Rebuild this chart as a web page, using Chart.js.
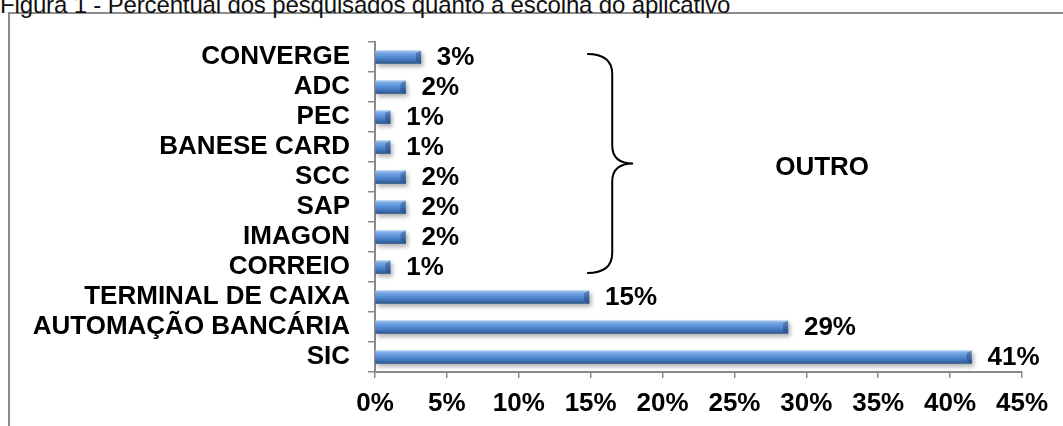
<!DOCTYPE html>
<html>
<head>
<meta charset="utf-8">
<script src="https://cdn.jsdelivr.net/npm/chart.js@4/dist/chart.umd.min.js"></script>
<style>
  body { margin: 0; background: #fff; overflow: hidden; }
  #wrap { position: relative; width: 1063px; height: 426px; }
  #frame { position: absolute; left: 8px; top: 12px; width: 1060px; height: 420px;
           border-top: 2px solid #8c8c8c; border-left: 2px solid #8c8c8c; }
  #title { position: absolute; left: 0px; top: -9px; font: 24px "Liberation Sans", Arial, sans-serif;
           color: #111; white-space: nowrap; letter-spacing: -0.15px; }
  #box { position: absolute; left: 0; top: 0; width: 1063px; height: 426px; }
</style>
</head>
<body>
<div id="wrap">
  <div id="frame"></div>
  <div id="title">Figura 1 - Percentual dos pesquisados quanto à escolha do aplicativo</div>
  <div id="box"><canvas id="chartBar"></canvas></div>
</div>
<script>
// dados (%)
var categorias = ["CONVERGE", "ADC", "PEC", "BANESE CARD", "SCC", "SAP", "IMAGON", "CORREIO",
                  "TERMINAL DE CAIXA", "AUTOMAÇÃO BANCÁRIA", "SIC"];
var percentuais = [3.19, 2.13, 1.06, 1.06, 2.13, 2.13, 2.13, 1.06, 14.89, 28.72, 41.49];
var ticksX = [0, 5, 10, 15, 20, 25, 30, 35, 40, 45];
var grupoOutro = "OUTRO";

function init(){
  Chart.defaults.font.family = '"Liberation Sans", Arial, sans-serif';
  Chart.defaults.color = '#000';
  var fonte = { size: 26, weight: 'bold' };
  var fonteTxt = 'bold 26px "Liberation Sans", Arial, sans-serif';

  // gradiente vertical de cada barra (efeito 3D)
  function corBarra(c){
    var chart = c.chart;
    if (!chart.chartArea || !chart.scales.y) return '#4f81bd';
    var y = chart.scales.y.getPixelForValue(c.dataIndex);
    var g = chart.ctx.createLinearGradient(0, y - 6.5, 0, y + 6.5);
    g.addColorStop(0, '#b4d0f2');
    g.addColorStop(0.15, '#80acE6');
    g.addColorStop(0.45, '#5790d8');
    g.addColorStop(0.75, '#4275bb');
    g.addColorStop(1, '#2c568a');
    return g;
  }

  var sombra = {
    id: 'sombra',
    beforeDatasetsDraw: function(chart){
      var ctx = chart.ctx;
      ctx.save();
      ctx.shadowColor = 'rgba(0,0,0,0.3)';
      ctx.shadowBlur = 4;
      ctx.shadowOffsetX = 2;
      ctx.shadowOffsetY = 3;
    },
    afterDatasetsDraw: function(chart){
      var ctx = chart.ctx;
      ctx.restore();
      var meta = chart.getDatasetMeta(0);
      meta.data.forEach(function(bar, i){
        var h = bar.height, t = bar.y - h / 2, b = bar.y + h / 2;
        // chanfro na ponta da barra
        ctx.save();
        ctx.fillStyle = 'rgba(20,45,90,0.35)';
        ctx.beginPath();
        ctx.moveTo(bar.x - 5, t + 3);
        ctx.lineTo(bar.x, t);
        ctx.lineTo(bar.x, b);
        ctx.lineTo(bar.x - 5, b - 3);
        ctx.closePath();
        ctx.fill();
        ctx.restore();
        // rotulo de valor
        ctx.save();
        ctx.font = fonteTxt;
        ctx.fillStyle = '#000';
        ctx.textAlign = 'left';
        ctx.textBaseline = 'middle';
        ctx.fillText(Math.round(percentuais[i]) + '%', bar.x + 16, bar.y + 1);
        ctx.restore();
      });
    }
  };

  // chave agrupando as categorias menores
  var chave = {
    id: 'chave',
    afterDraw: function(chart){
      var xs = chart.scales.x, ys = chart.scales.y, ctx = chart.ctx;
      var yT = ys.getPixelForValue(0) - 3;
      var yB = ys.getPixelForValue(7) + 6;
      var yM = (yT + yB) / 2;
      var xL = xs.getPixelForValue(14.75);
      var xV = xs.getPixelForValue(16.5);
      var xT = xs.getPixelForValue(17.95);
      ctx.save();
      ctx.strokeStyle = '#000';
      ctx.lineWidth = 2;
      ctx.beginPath();
      ctx.moveTo(xL, yT);
      ctx.quadraticCurveTo(xV, yT, xV, yT + 20);
      ctx.lineTo(xV, yM - 18);
      ctx.quadraticCurveTo(xV, yM, xT, yM);
      ctx.quadraticCurveTo(xV, yM, xV, yM + 18);
      ctx.lineTo(xV, yB - 20);
      ctx.quadraticCurveTo(xV, yB, xL, yB);
      ctx.stroke();
      ctx.font = fonteTxt;
      ctx.fillStyle = '#000';
      ctx.textAlign = 'center';
      ctx.textBaseline = 'middle';
      ctx.fillText(grupoOutro, xs.getPixelForValue(31.1), yM + 4);
      ctx.restore();
    }
  };

  window.chart = new Chart(document.getElementById("chartBar"), {
    type: 'bar',
    data: {
      labels: categorias,
      datasets: [{
        label: 'percentual',
        data: percentuais,
        backgroundColor: corBarra,
        borderWidth: 0,
        barThickness: 13
      }]
    },
    options: {
      indexAxis: 'y',
      responsive: true,
      maintainAspectRatio: false,
      animation: false,
      layout: { padding: { left: 0, right: 41, top: 42, bottom: 0 } },
      plugins: { legend: { display: false }, tooltip: { enabled: false } },
      scales: {
        x: {
          min: 0, max: 45,
          afterBuildTicks: function(s){ s.ticks = ticksX.map(function(v){ return { value: v }; }); },
          afterFit: function(s){ s.height = 54; },
          ticks: { font: fonte, padding: 10, callback: function(v){ return v + '%'; } },
          grid: { drawOnChartArea: false, drawTicks: true, tickLength: 6, color: '#8a8a8a', lineWidth: 1.5 },
          border: { color: '#8a8a8a', width: 2 }
        },
        y: {
          afterFit: function(s){ s.width = 375; },
          ticks: { font: fonte, padding: 18, autoSkip: false },
          grid: { drawOnChartArea: false, drawTicks: true, tickLength: 7, color: '#8a8a8a', lineWidth: 1.5, offset: true },
          border: { color: '#8a8a8a', width: 2 }
        }
      }
    },
    plugins: [sombra, chave]
  });
}
window.addEventListener("load", init);
</script>
</body>
</html>
